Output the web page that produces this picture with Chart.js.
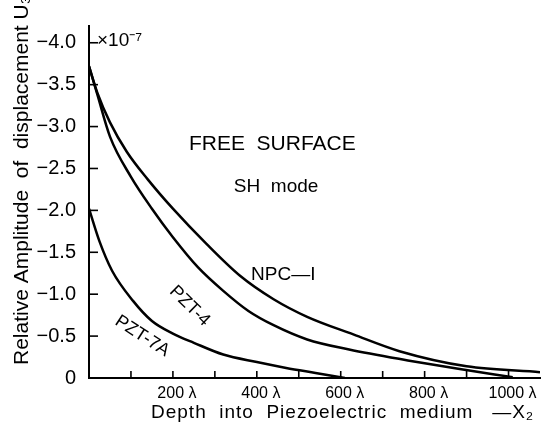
<!DOCTYPE html>
<html>
<head>
<meta charset="utf-8">
<script src="https://cdn.jsdelivr.net/npm/chart.js@4.4.0/dist/chart.umd.min.js"></script>
<style>
  html, body { margin: 0; padding: 0; background: #fff; }
  #wrap { width: 558px; height: 431px; }
</style>
</head>
<body>
<div id="wrap"><canvas id="chart" width="558" height="431"></canvas></div>
<script>
// values (amplitude x 10^-7, depth in wavelengths)
const depthNPC = [0, 20, 50, 90, 140, 200, 280, 360, 440, 520, 630, 740, 900, 1075];
const ampNPC = [-3.72, -3.40, -3.05, -2.70, -2.37, -2.02, -1.60, -1.22, -0.94, -0.73, -0.52, -0.32, -0.14, -0.07];

const depthPZT4 = [0, 20, 50, 100, 150, 200, 260, 320, 380, 440, 520, 620, 760, 880, 1010];
const ampPZT4 = [-3.72, -3.38, -2.88, -2.40, -2.02, -1.68, -1.32, -1.04, -0.80, -0.63, -0.46, -0.34, -0.21, -0.11, -0.01];

const depthPZT7A = [0, 25, 55, 105, 150, 200, 250, 320, 400, 470, 540, 610];
const ampPZT7A = [-2.02, -1.63, -1.28, -0.92, -0.68, -0.53, -0.42, -0.28, -0.19, -0.12, -0.06, 0.0];

const yTickStep = 0.5;
const xTickStep = 100;

const FONT = '"Liberation Sans", Arial, sans-serif';

function pts(xs, ys) {
  return xs.map((x, i) => ({ x: x, y: ys[i] }));
}

function curve(label, xs, ys) {
  return {
    label: label,
    data: pts(xs, ys),
    borderColor: '#000',
    borderWidth: 2.5,
    pointRadius: 0,
    fill: false,
    cubicInterpolationMode: 'monotone',
  };
}

// tick marks point into the plot like in the printed figure
const innerTicks = {
  id: 'innerTicks',
  afterDraw(chart) {
    const { ctx, scales: { x, y } } = chart;
    ctx.save();
    ctx.strokeStyle = '#000';
    ctx.lineWidth = 1.6;
    y.ticks.forEach((t) => {
      if (t.value === 0) return;
      const py = y.getPixelForValue(t.value);
      ctx.beginPath();
      ctx.moveTo(x.left, py);
      ctx.lineTo(x.left + 9, py);
      ctx.stroke();
    });
    x.ticks.forEach((t) => {
      if (t.value === 0 || t.value % xTickStep !== 0) return;
      const px = x.getPixelForValue(t.value);
      ctx.beginPath();
      ctx.moveTo(px, y.bottom);
      ctx.lineTo(px, y.bottom - 7);
      ctx.stroke();
    });
    ctx.restore();
  },
};

// titles and curve labels
const labels = {
  id: 'labels',
  afterDraw(chart) {
    const { ctx, chartArea, scales: { x, y } } = chart;
    ctx.save();
    ctx.fillStyle = '#000';

    // y title
    ctx.save();
    ctx.translate(28, 365);
    ctx.rotate(-Math.PI / 2);
    ctx.font = '21px ' + FONT;
    ctx.textAlign = 'left';
    ctx.textBaseline = 'alphabetic';
    ctx.fillText('Relative Amplitude  of  displacement U\u2083', 0, 0);
    ctx.restore();

    // x title
    ctx.font = '19px ' + FONT;
    ctx.textAlign = 'left';
    ctx.textBaseline = 'middle';
    ctx.letterSpacing = '1px';
    ctx.fillText('Depth  into  Piezoelectric  medium   \u2014X\u2082', 151, 413);
    ctx.letterSpacing = '0px';

    // exponent
    ctx.font = '19px ' + FONT;
    ctx.fillText('\u00d710\u207b\u2077', chartArea.left + 8, y.getPixelForValue(-4.0) - 2);

    ctx.textAlign = 'center';
    ctx.font = '21px ' + FONT;
    ctx.fillText('FREE  SURFACE', x.getPixelForValue(437), y.getPixelForValue(-2.79));
    ctx.font = '19px ' + FONT;
    ctx.fillText('SH  mode', x.getPixelForValue(446), y.getPixelForValue(-2.28));
    ctx.fillText('NPC\u2014I', x.getPixelForValue(463), y.getPixelForValue(-1.23));

    ctx.font = '18px ' + FONT;
    ctx.save();
    ctx.translate(x.getPixelForValue(240), y.getPixelForValue(-0.86));
    ctx.rotate(44.5 * Math.PI / 180);
    ctx.fillText('PZT-4', 0, 0);
    ctx.restore();

    ctx.save();
    ctx.translate(x.getPixelForValue(127), y.getPixelForValue(-0.50));
    ctx.rotate(33 * Math.PI / 180);
    ctx.fillText('PZT-7A', 0, 0);
    ctx.restore();

    ctx.restore();
  },
};

new Chart(document.getElementById('chart'), {
  type: 'line',
  data: {
    datasets: [
      curve('NPC-1', depthNPC, ampNPC),
      curve('PZT-4', depthPZT4, ampPZT4),
      curve('PZT-7A', depthPZT7A, ampPZT7A),
    ],
  },
  options: {
    responsive: false,
    animation: false,
    layout: { padding: { top: 26, right: 18, left: 0, bottom: 0 } },
    plugins: {
      legend: { display: false },
      tooltip: { enabled: false },
    },
    scales: {
      x: {
        type: 'linear',
        min: 0,
        max: 1075,
        grid: { display: false },
        border: { display: true, color: '#000', width: 2 },
        ticks: {
          stepSize: xTickStep,
          includeBounds: false,
          autoSkip: false,
          maxRotation: 0,
          padding: -2,
          labelOffset: 4,
          color: '#000',
          font: { family: FONT, size: 16 },
          callback: (v) => (v > 0 && v % 200 === 0 ? v + ' \u03bb' : ''),
        },
        afterFit: (s) => { s.height = 53; },
      },
      y: {
        type: 'linear',
        reverse: true,
        min: -4.2,
        max: 0,
        grid: { display: false },
        border: { display: true, color: '#000', width: 2 },
        ticks: {
          stepSize: yTickStep,
          includeBounds: false,
          autoSkip: false,
          padding: 5,
          color: '#000',
          font: { family: FONT, size: 20 },
          callback: (v) => (v === 0 ? '0' : '\u2212' + Math.abs(v).toFixed(1)),
        },
        afterFit: (s) => { s.width = 89; },
      },
    },
  },
  plugins: [innerTicks, labels],
});
</script>
</body>
</html>
